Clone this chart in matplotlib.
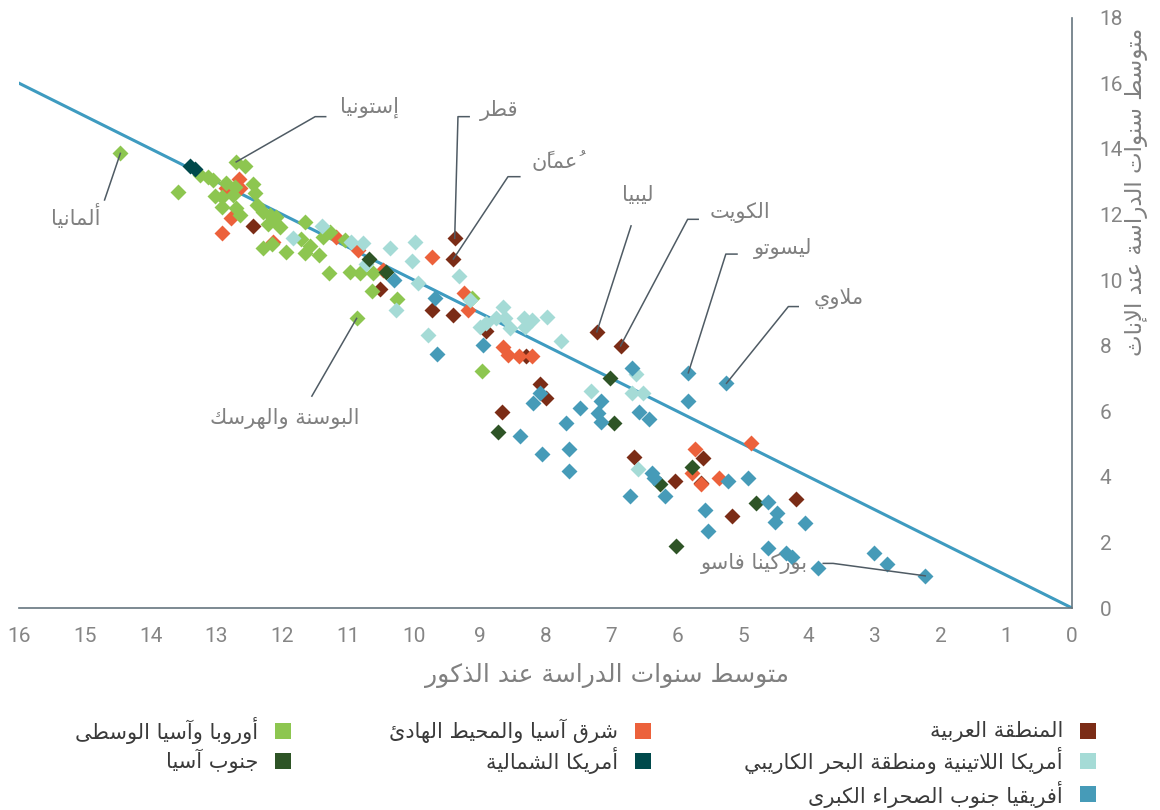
import matplotlib
matplotlib.use("Agg")
import matplotlib.pyplot as plt
import matplotlib.patches as mpatches

# ---- data: (male years, female years) per region ----
arab_m = [9.38, 9.40, 7.22, 6.86, 12.45, 10.52, 9.73, 9.40, 8.91, 8.30, 8.09, 8.00,
          8.66, 6.66, 6.03, 5.61, 5.63, 4.19, 5.16]
arab_f = [11.27, 10.64, 8.42, 7.99, 11.66, 9.72, 9.09, 8.93, 8.45, 7.68, 6.82, 6.41,
          5.99, 4.61, 3.88, 4.56, 3.82, 3.31, 2.80]

easia_m = [12.65, 12.64, 12.85, 12.78, 12.91, 12.14, 11.18, 10.85, 10.47, 9.73, 9.24,
           9.17, 8.64, 8.57, 8.41, 8.21, 4.88, 5.73, 5.78, 5.64, 5.36]
easia_f = [13.08, 12.80, 12.80, 11.88, 11.42, 11.17, 11.32, 10.91, 10.30, 10.69, 9.59,
           9.09, 7.97, 7.71, 7.68, 7.68, 5.02, 4.85, 4.13, 3.78, 3.95]

europe_m = [14.46, 12.70, 10.87, 12.56, 13.58, 13.25, 13.13, 13.05, 12.85, 12.44, 12.72,
            13.02, 12.92, 12.75, 12.42, 12.92, 12.70, 12.64, 12.39, 12.29, 12.19, 12.09,
            12.21, 12.04, 11.66, 11.28, 11.71, 11.38, 11.05, 12.29, 12.16, 11.95, 11.66,
            11.58, 11.44, 10.62, 10.82, 10.97, 11.29, 10.64, 10.25, 8.97, 9.12]
europe_f = [13.86, 13.60, 8.83, 13.48, 12.67, 13.20, 13.15, 13.05, 12.95, 12.93, 12.85,
            12.56, 12.54, 12.59, 12.64, 12.23, 12.19, 11.98, 12.29, 12.08, 11.98, 11.93,
            11.71, 11.62, 11.78, 11.47, 11.24, 11.32, 11.22, 10.97, 11.10, 10.86, 10.81,
            11.04, 10.76, 10.20, 10.22, 10.23, 10.20, 9.67, 9.41, 7.24, 9.45]

latam_m = [11.40, 11.83, 10.95, 10.77, 10.36, 9.98, 10.03, 10.73, 9.31, 9.93, 10.27,
           9.15, 9.78, 9.00, 8.90, 8.75, 8.64, 8.62, 8.54, 8.33, 8.21, 8.31, 7.98, 7.76,
           6.62, 7.31, 6.68, 6.52, 6.60]
latam_f = [11.66, 11.27, 11.17, 11.12, 10.97, 11.15, 10.58, 10.48, 10.13, 9.90, 9.09,
           9.39, 8.32, 8.58, 8.70, 8.83, 9.19, 8.83, 8.53, 8.83, 8.78, 8.58, 8.88, 8.14,
           7.13, 6.62, 6.55, 6.55, 4.23]

namerica_m = [13.40, 13.33]
namerica_f = [13.47, 13.37]

sasia_m = [10.68, 10.42, 7.02, 6.96, 8.72, 6.26, 5.78, 4.80, 6.01]
sasia_f = [10.63, 10.25, 7.00, 5.65, 5.38, 3.77, 4.29, 3.21, 1.90]

ssa_m = [5.83, 5.25, 2.23, 10.30, 9.68, 9.65, 8.95, 6.68, 8.09, 8.19, 7.48, 7.16, 7.20,
         7.16, 5.83, 6.58, 6.43, 8.38, 7.69, 7.64, 8.05, 7.64, 6.38, 6.35, 5.22, 4.93,
         4.62, 6.71, 6.18, 5.58, 4.48, 4.51, 4.05, 5.53, 4.62, 4.34, 4.26, 3.86, 3.01, 2.81]
ssa_f = [7.17, 6.85, 0.98, 10.00, 9.44, 7.74, 8.02, 7.31, 6.55, 6.26, 6.11, 6.32, 5.95,
         5.68, 6.32, 5.99, 5.75, 5.24, 5.65, 4.85, 4.69, 4.19, 4.13, 3.95, 3.88, 3.95,
         3.24, 3.42, 3.42, 2.99, 2.89, 2.63, 2.58, 2.36, 1.84, 1.69, 1.56, 1.21, 1.67, 1.34]

region_names = ["المنطقة العربية", "شرق آسيا والمحيط الهادئ", "أوروبا وآسيا الوسطى",
                "أمريكا اللاتينية ومنطقة البحر الكاريبي", "أمريكا الشمالية", "جنوب آسيا",
                "أفريقيا جنوب الصحراء الكبرى"]
region_colors = ["#7B2C16", "#EC613B", "#8DC650", "#A5DBD6", "#00494B", "#2E5426", "#469BB8"]
regions = [(arab_m, arab_f), (easia_m, easia_f), (europe_m, europe_f), (latam_m, latam_f),
           (namerica_m, namerica_f), (sasia_m, sasia_f), (ssa_m, ssa_f)]

# labelled countries: name, region index, point index, elbow/end of leader line, text spot
labels = [
    ("إستونيا", 2, 1, [(11.50, 14.98), (11.34, 14.98)], (10.68, 15.28)),
    ("ألمانيا", 2, 0, [(14.70, 12.44)], (15.14, 11.95)),
    ("قطر", 0, 0, [(9.33, 14.98), (9.16, 14.98)], (8.70, 15.16)),
    ("عُمانً", 0, 1, [(8.57, 13.15), (8.39, 13.15)], (7.86, 13.60)),
    ("ليبيا", 0, 2, [(6.70, 11.65)], (6.59, 12.59)),
    ("الكويت", 0, 3, [(5.84, 11.85), (5.68, 11.85)], (5.05, 12.05)),
    ("ليسوتو", 6, 0, [(5.26, 10.79), (5.09, 10.79)], (4.39, 10.97)),
    ("ملاوي", 6, 1, [(4.31, 9.19), (4.16, 9.19)], (3.54, 9.44)),
    ("البوسنة والهرسك", 2, 2, [(11.55, 6.46)], (11.96, 5.78)),
    ("بوركينا فاسو", 6, 2, [(3.63, 1.36), (3.78, 1.36)], (4.83, 1.36)),
]

xlabel = "متوسط سنوات الدراسة عند الذكور"
ylabel = "متوسط سنوات الدراسة عند الإناث"

# ---- minimal arabic shaping (matplotlib draws glyphs left to right, unjoined) ----
_AR = {
    'ء': (0xFE80, 'U'), 'آ': (0xFE81, 'R'), 'أ': (0xFE83, 'R'), 'ؤ': (0xFE85, 'R'),
    'إ': (0xFE87, 'R'), 'ئ': (0xFE89, 'D'), 'ا': (0xFE8D, 'R'), 'ب': (0xFE8F, 'D'),
    'ة': (0xFE93, 'R'), 'ت': (0xFE95, 'D'), 'ث': (0xFE99, 'D'), 'ج': (0xFE9D, 'D'),
    'ح': (0xFEA1, 'D'), 'خ': (0xFEA5, 'D'), 'د': (0xFEA9, 'R'), 'ذ': (0xFEAB, 'R'),
    'ر': (0xFEAD, 'R'), 'ز': (0xFEAF, 'R'), 'س': (0xFEB1, 'D'), 'ش': (0xFEB5, 'D'),
    'ص': (0xFEB9, 'D'), 'ض': (0xFEBD, 'D'), 'ط': (0xFEC1, 'D'), 'ظ': (0xFEC5, 'D'),
    'ع': (0xFEC9, 'D'), 'غ': (0xFECD, 'D'), 'ف': (0xFED1, 'D'), 'ق': (0xFED5, 'D'),
    'ك': (0xFED9, 'D'), 'ل': (0xFEDD, 'D'), 'م': (0xFEE1, 'D'), 'ن': (0xFEE5, 'D'),
    'ه': (0xFEE9, 'D'), 'و': (0xFEED, 'R'), 'ى': (0xFEEF, 'R'), 'ي': (0xFEF1, 'D'),
    'لآ': (0xFEF5, 'R'), 'لأ': (0xFEF7, 'R'), 'لإ': (0xFEF9, 'R'), 'لا': (0xFEFB, 'R'),
}


def ar(text):
    units = []
    for ch in text:
        if '\u064b' <= ch <= '\u0652' and units:
            units[-1][1] += ch
        elif units and units[-1][0] == 'ل' and not units[-1][1] and 'ل' + ch in _AR:
            units[-1][0] = 'ل' + ch
        else:
            units.append([ch, ''])

    def kind(u):
        return _AR[u][1] if u in _AR else 'U'

    out = []
    for i, (u, marks) in enumerate(units):
        if u not in _AR:
            out.append(u + marks)
            continue
        k = kind(u)
        prev_ok = i > 0 and kind(units[i - 1][0]) == 'D' and k in 'DR'
        next_ok = i < len(units) - 1 and k == 'D' and kind(units[i + 1][0]) in 'DR'
        if k == 'U':
            form = 0
        elif prev_ok and next_ok:
            form = 3
        elif prev_ok:
            form = 1
        elif next_ok:
            form = 2
        else:
            form = 0
        out.append(chr(_AR[u][0] + form) + marks)
    return ''.join(reversed(out))


W, H = 1160, 810
fig = plt.figure(figsize=(W / 100, H / 100), dpi=100)
ax = fig.add_axes([19 / W, 1 - 608 / H, 1053 / W, 590.4 / H])

# diagonal parity line
ax.plot([16, 0], [16, 0], color="#3E9BC0", lw=2.2, zorder=1)

for (xs, ys), col, name in zip(regions, region_colors, region_names):
    ax.scatter(xs, ys, marker="D", s=66, color=col, linewidths=0, zorder=3, label=name)

for name, ri, pi, path, txt in labels:
    x0, y0 = regions[ri][0][pi], regions[ri][1][pi]
    lx = [x0] + [p[0] for p in path]
    ly = [y0] + [p[1] for p in path]
    ax.plot(lx, ly, color="#4F5B64", lw=1.1, zorder=4)
    ax.text(txt[0], txt[1], ar(name), fontsize=15, color="#808080",
            ha="center", va="center", family="DejaVu Sans")

ax.set_xlim(16, 0)
ax.set_ylim(0, 18)
ax.set_xticks(range(0, 17))
ax.set_yticks(range(0, 19, 2))
ax.yaxis.tick_right()
ax.tick_params(length=0, labelsize=15, labelcolor="#858585")
ax.tick_params(axis="x", pad=14)
ax.tick_params(axis="y", pad=20)
for lab in ax.get_xticklabels() + ax.get_yticklabels():
    lab.set_family("Roboto")
for s in ("top", "left"):
    ax.spines[s].set_visible(False)
for s in ("bottom", "right"):
    ax.spines[s].set_color("#66767F")
    ax.spines[s].set_linewidth(1.2)

fig.text(607 / W, 1 - 676 / H, ar(xlabel), fontsize=18, color="#808080",
         ha="center", va="center", family="DejaVu Sans")
fig.text(1137 / W, 1 - 192 / H, ar(ylabel), fontsize=16.5, color="#808080",
         ha="center", va="center", rotation=90, family="DejaVu Sans")

# legend drawn right-to-left: square then text to its left
col_x = [1088, 643, 283]
row_y = [731, 761, 794]
slots = [(0, 0), (1, 0), (2, 0), (0, 1), (1, 1), (2, 1), (0, 2)]
for (c, r), name, col in zip(slots, region_names, region_colors):
    cx, cy = col_x[c], row_y[r]
    fig.add_artist(mpatches.Rectangle(((cx - 8) / W, 1 - (cy + 8) / H), 16 / W, 16 / H,
                                      transform=fig.transFigure, color=col, lw=0))
    fig.text((cx - 25) / W, 1 - cy / H, ar(name), fontsize=15, color="#3A3A3A",
             ha="right", va="center", family="DejaVu Sans")

fig.savefig("out.png", dpi=100)
